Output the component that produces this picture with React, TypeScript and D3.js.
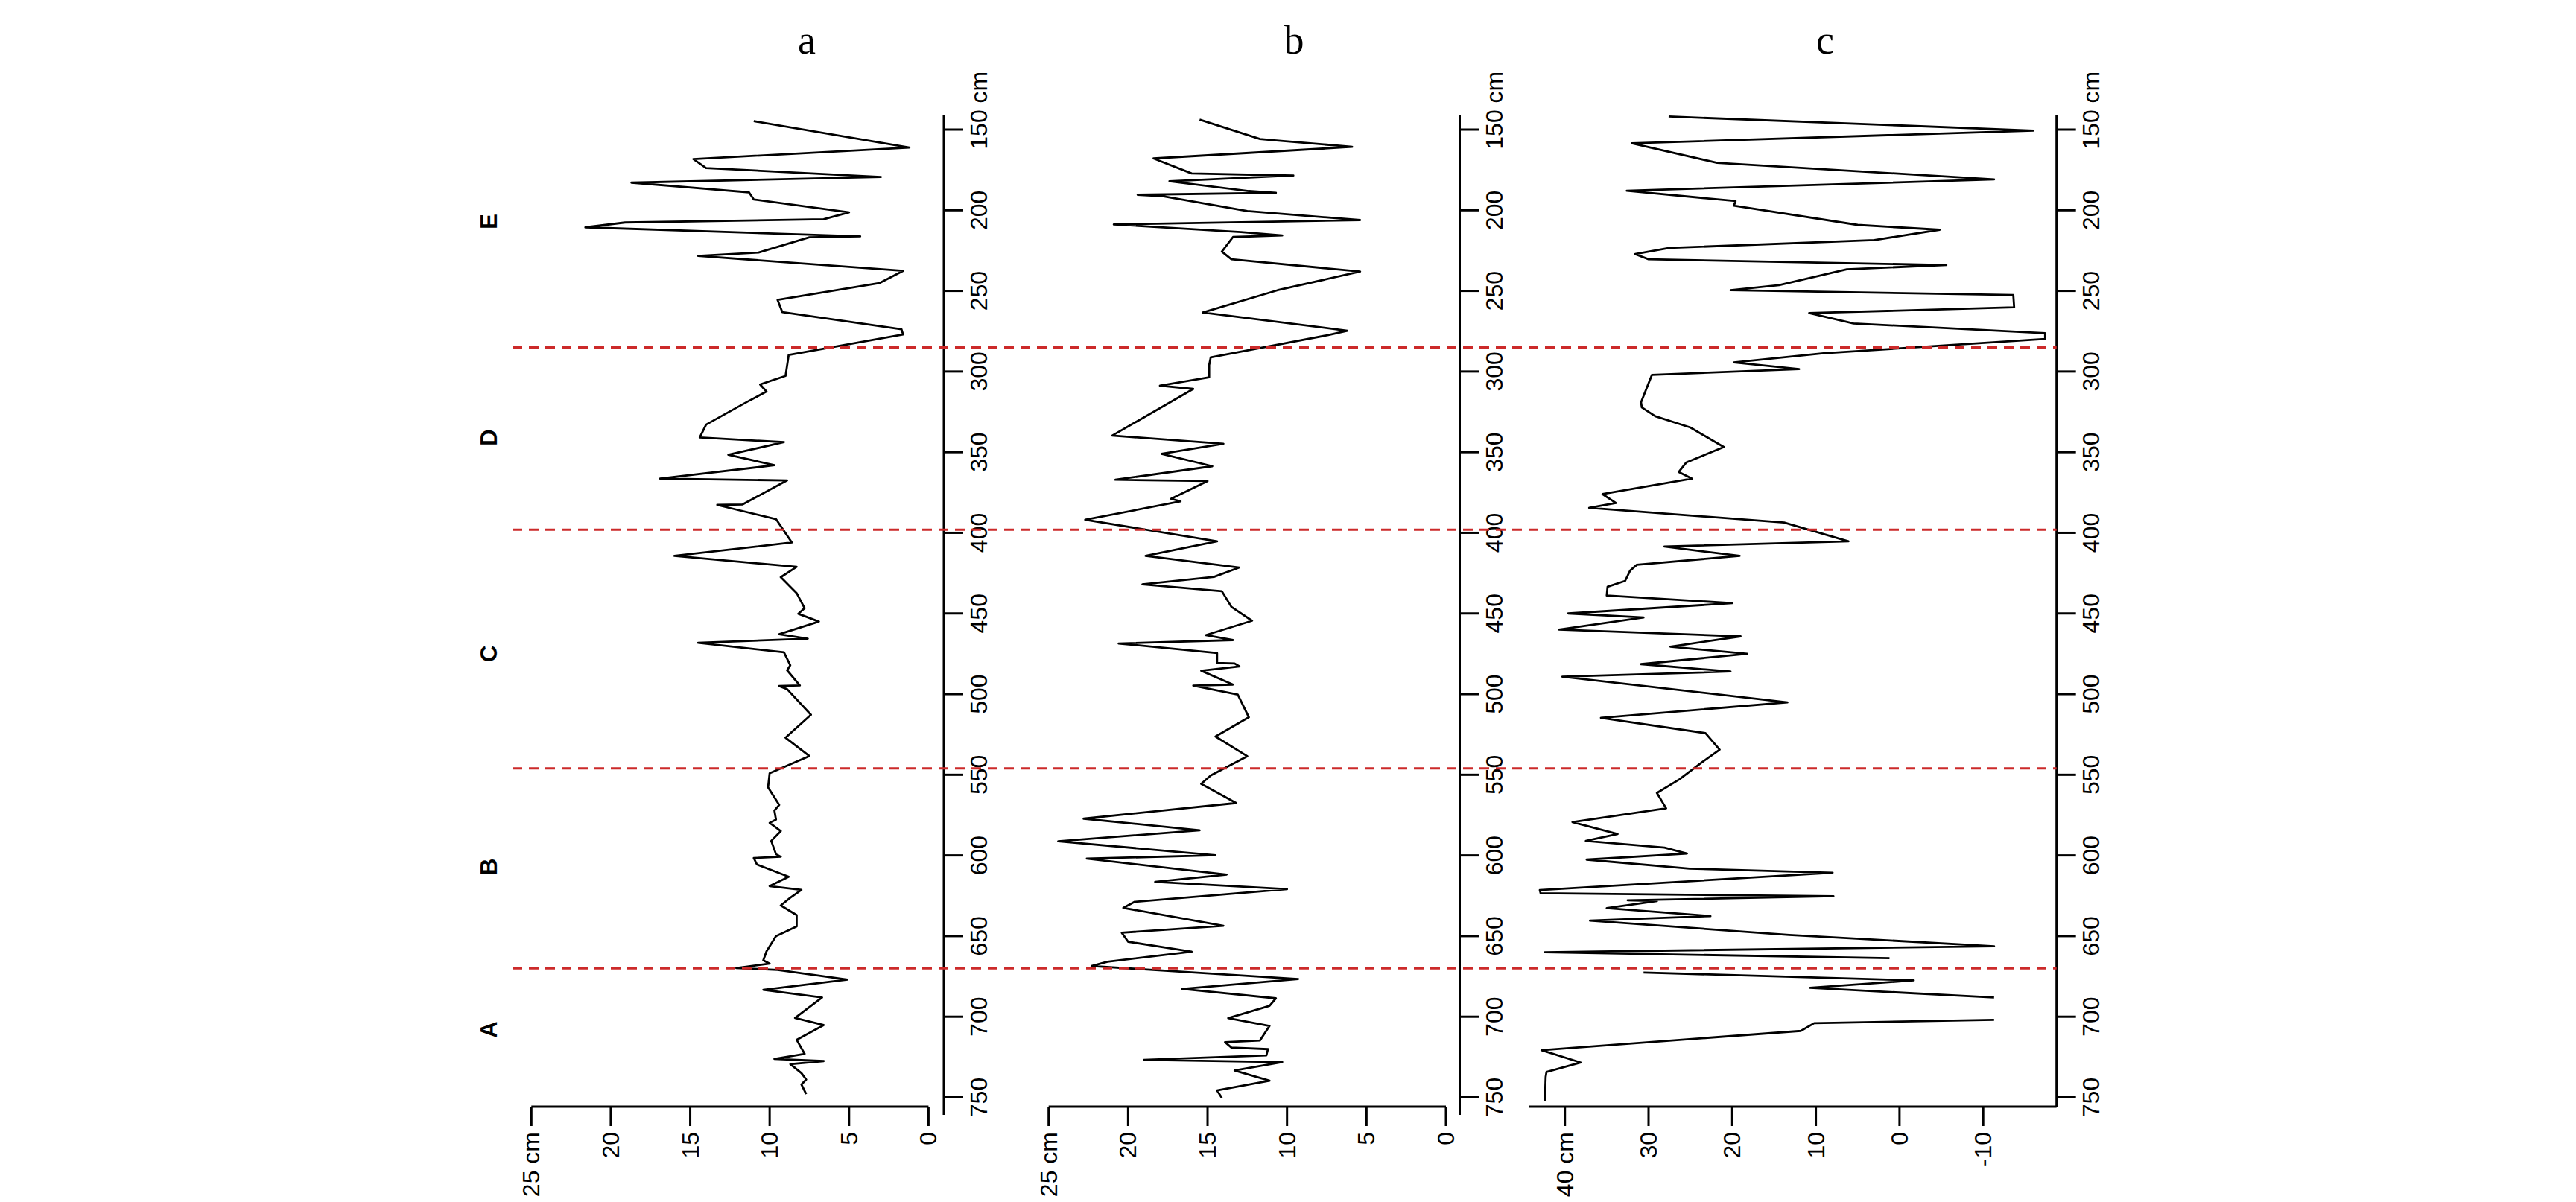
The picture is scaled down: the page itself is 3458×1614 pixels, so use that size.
import React from "react";
import * as d3 from "d3";

// depth (cm), value (cm)
const seriesA: [number, number][] = [
  [144.8, 11.0], [161.1, 1.2], [168.3, 14.8], [173.8, 14.0], [179.4, 3.0], [182.9, 18.7],
  [188.9, 11.3], [193.3, 11.0], [201.3, 5.0], [205.6, 6.6], [207.6, 19.1], [210.6, 21.6],
  [216.2, 4.3], [216.8, 7.5], [226.2, 10.7], [228.3, 14.5], [237.6, 1.6], [245.2, 3.1],
  [255.6, 9.5], [263.2, 9.2], [273.8, 1.7], [277.0, 1.6], [289.7, 8.8], [302.7, 9.0],
  [308.0, 10.6], [312.4, 10.2], [318.7, 11.4], [332.9, 14.0], [340.9, 14.4], [343.8, 9.1],
  [351.6, 12.6], [358.1, 9.7], [366.4, 16.9], [367.5, 8.9], [382.4, 11.7], [382.7, 13.3],
  [391.5, 9.6], [406.0, 8.6], [414.3, 16.0], [421.1, 8.3], [427.5, 9.3], [437.4, 8.3],
  [446.7, 7.8], [450.2, 8.2], [455.0, 6.9], [462.9, 9.4], [465.6, 7.6], [468.2, 14.5],
  [474.1, 9.1], [482.1, 8.7], [485.2, 8.9], [494.6, 8.1], [495.0, 9.4], [496.9, 8.9],
  [512.8, 7.4], [527.0, 9.0], [538.4, 7.5], [549.0, 10.0], [557.8, 10.1], [568.7, 9.4],
  [572.2, 9.7], [577.8, 9.6], [579.8, 10.0], [584.9, 9.3], [591.0, 9.9], [599.2, 9.6],
  [600.8, 9.3], [601.6, 11.0], [605.6, 10.8], [613.2, 8.8], [619.0, 10.0], [621.4, 8.0],
  [626.2, 8.7], [631.0, 9.3], [637.0, 8.3], [644.0, 8.3], [650.0, 9.6], [659.5, 10.2],
  [665.0, 10.4], [667.1, 10.0], [669.8, 12.1], [671.0, 9.5], [677.0, 5.1], [683.3, 10.4],
  [688.1, 6.7], [700.8, 8.4], [705.2, 6.6], [714.3, 8.3], [723.0, 7.8], [726.2, 9.7],
  [727.5, 6.6], [729.4, 8.7], [734.9, 8.0], [738.9, 7.7], [742.0, 8.0], [748.0, 7.7],
];

const seriesB: [number, number][] = [
  [143.8, 15.5], [155.8, 11.7], [156.6, 10.8], [160.7, 5.9], [167.9, 18.4], [177.2, 16.0],
  [178.5, 9.6], [182.0, 17.4], [188.1, 12.4], [189.2, 10.7], [190.4, 19.4], [191.2, 17.9],
  [200.5, 12.5], [206.1, 5.4], [208.8, 20.9], [213.5, 12.9], [215.6, 10.3], [216.6, 13.4],
  [225.7, 14.1], [230.4, 13.5], [238.0, 5.4], [249.6, 10.6], [263.4, 15.3], [274.7, 6.2],
  [277.4, 7.4], [291.2, 14.8], [296.0, 14.9], [303.6, 14.9], [308.8, 18.0], [310.8, 15.9],
  [339.7, 21.0], [344.8, 14.0], [351.0, 17.9], [358.7, 14.7], [367.1, 20.8], [367.9, 15.0],
  [378.9, 17.3], [380.5, 16.7], [391.9, 22.7], [405.3, 14.4], [414.3, 18.9], [421.5, 13.0],
  [427.3, 14.6], [431.9, 19.1], [436.2, 14.1], [445.9, 13.5], [454.5, 12.2], [463.4, 15.1],
  [466.5, 13.4], [468.6, 20.6], [474.5, 14.4], [480.7, 14.4], [481.0, 13.3], [482.8, 13.0],
  [485.5, 15.4], [494.1, 13.4], [494.7, 15.9], [500.3, 13.1], [514.3, 12.4], [526.3, 14.5],
  [538.5, 12.5], [550.4, 14.8], [555.6, 15.4], [567.5, 13.2], [577.2, 22.8], [584.4, 15.5],
  [591.2, 24.4], [599.9, 14.5], [602.0, 22.6], [611.9, 13.8], [616.4, 18.3], [620.9, 10.0],
  [628.8, 19.6], [632.5, 20.3], [643.6, 14.0], [647.9, 20.4], [653.5, 20.0], [659.7, 16.0],
  [665.9, 21.3], [668.6, 22.3], [676.6, 9.3], [682.8, 16.6], [688.6, 10.7], [693.3, 11.1],
  [700.9, 13.7], [705.7, 11.1], [714.7, 11.7], [715.8, 13.9], [719.1, 13.5], [720.1, 11.2],
  [724.0, 11.3], [726.7, 19.0], [728.1, 10.3], [733.3, 13.3], [739.7, 11.1], [745.7, 14.4],
  [750.4, 14.1],
];

// null = gap in the record
const seriesC: ([number, number] | null)[] = [
  [141.9, 27.6], [150.6, -16.0], [158.5, 32.0], [170.6, 21.8], [180.9, -11.3], [187.9, 32.6],
  [194.3, 19.6], [197.2, 19.8], [209.1, 5.0], [212.1, -4.8], [218.5, 3.0], [223.4, 27.5],
  [227.2, 31.6], [230.4, 30.0], [234.0, -5.6], [236.6, 6.3], [246.4, 14.4], [249.6, 20.2],
  [252.6, -13.6], [260.2, -13.7], [263.8, 10.8], [270.2, 5.5], [276.2, -17.4], [279.8, -17.4],
  [288.7, 9.1], [294.3, 19.8], [298.5, 12.0], [302.1, 29.6], [319.1, 30.9], [322.3, 30.8],
  [327.7, 29.2], [334.7, 25.0], [346.8, 21.0], [356.4, 25.5], [362.3, 26.4], [366.4, 24.8],
  [376.0, 35.5], [381.5, 33.9], [384.5, 37.1], [393.6, 13.8], [405.3, 6.1], [408.5, 28.1],
  [414.3, 19.1], [419.8, 31.4], [423.4, 32.2], [429.8, 32.8], [433.4, 34.9], [438.9, 35.0],
  [443.6, 20.0], [450.0, 39.6], [452.5, 30.6], [460.0, 40.7], [464.2, 19.0], [470.6, 27.4],
  [475.0, 18.2], [481.4, 30.9], [486.0, 20.2], [489.2, 40.3], [505.1, 13.4], [514.7, 35.7],
  [524.2, 23.2], [534.4, 21.5], [542.2, 23.6], [552.8, 26.3], [561.3, 29.0], [570.8, 27.9],
  [579.3, 39.1], [586.7, 33.7], [591.0, 37.5], [595.2, 28.1], [598.8, 25.4], [602.6, 37.4],
  [608.2, 25.1], [610.7, 8.0], [621.5, 43.0], [623.4, 42.9], [625.3, 7.9], [627.8, 32.5],
  [628.3, 29.0], [632.7, 35.0], [637.6, 22.6], [640.4, 37.0], [649.3, 13.2], [656.3, -11.3],
  [660.0, 42.4], [663.7, 1.2], null, [672.6, 30.6], [677.5, -1.7], [682.1, 10.7],
  [688.1, -11.3], null, [701.9, -11.3], [704.0, 10.2], [708.8, 11.8], [720.7, 42.8],
  [728.4, 38.1], [734.2, 42.2], [737.3, 42.3], [752.3, 42.4],
];

const depthTicks = [150, 200, 250, 300, 350, 400, 450, 500, 550, 600, 650, 700, 750];
const valueTicksAB = [0, 5, 10, 15, 20, 25];
const valueTicksC = [-10, 0, 10, 20, 30, 40];
const zoneBounds = [285, 398, 546, 670];
const zoneNames = ["E", "D", "C", "B", "A"];
const zoneCentres = [207, 341, 475, 607, 708];

const W = 3458;
const H = 1614;
const SANS = "'Liberation Sans', Arial, Helvetica, sans-serif";
const SERIF = "'Liberation Serif', 'Times New Roman', serif";
const RED = "#cc2a2a";
const TICK_FS = 32;
const AXIS_Y = 1486;
const TICK_LEN = 26;

const depth = d3.scaleLinear().domain([150, 750]).range([174, 1473.5]);

interface PanelProps {
  title: string;
  titleX: number;
  data: ([number, number] | null)[];
  domain: [number, number];
  range: [number, number];
  axisX: number;
  ticks: number[];
  lShape?: boolean;
}

const Panel: React.FC<PanelProps> = ({ title, titleX, data, domain, range, axisX, ticks, lShape }) => {
  const x = d3.scaleLinear().domain(domain).range(range);
  const line = d3
    .line<[number, number] | null>()
    .defined((d) => d != null)
    .x((d) => x(d![1]))
    .y((d) => depth(d![0]));

  const maxTick = d3.max(ticks)!;
  const half150 = 0.834 * TICK_FS; // half the width of a 3-digit label
  // the L-shaped panel has its value axis run on to the depth axis
  const valStart = lShape ? x(44.3) : x(d3.max(ticks)!);
  const valEnd = lShape ? axisX : x(d3.min(ticks)!);

  return (
    <g>
      <text x={titleX} y={72} fontFamily={SERIF} fontSize={54} textAnchor="middle">
        {title}
      </text>

      <path d={line(data) || ""} fill="none" stroke="#000" strokeWidth={2.8} strokeLinejoin="round" />

      {/* depth axis */}
      <line x1={axisX} x2={axisX} y1={155} y2={lShape ? AXIS_Y : 1497} stroke="#000" strokeWidth={3} />
      {depthTicks.map((t, i) => (
        <g key={t}>
          <line x1={axisX} x2={axisX + TICK_LEN} y1={depth(t)} y2={depth(t)} stroke="#000" strokeWidth={3} />
          <text
            transform={`translate(${axisX + 46.7},${depth(t)}) rotate(-90)`}
            x={-half150}
            textAnchor="start"
            dominantBaseline="central"
            fontFamily={SANS}
            fontSize={TICK_FS}
          >
            {i === 0 ? `${t} cm` : t}
          </text>
        </g>
      ))}

      {/* value axis */}
      <line x1={valStart} x2={valEnd} y1={AXIS_Y} y2={AXIS_Y} stroke="#000" strokeWidth={3} />
      {ticks.map((t) => (
        <g key={t}>
          <line x1={x(t)} x2={x(t)} y1={AXIS_Y} y2={AXIS_Y + TICK_LEN} stroke="#000" strokeWidth={3} />
          <text
            transform={`translate(${x(t)},1520) rotate(-90)`}
            textAnchor="end"
            dominantBaseline="central"
            fontFamily={SANS}
            fontSize={TICK_FS}
          >
            {t === maxTick ? `${t} cm` : t}
          </text>
        </g>
      ))}
    </g>
  );
};

const App: React.FC = () => {
  return (
    <svg
      width={W}
      height={H}
      viewBox={`0 0 ${W} ${H}`}
      style={{ position: "absolute", left: 0, top: 0, background: "#fff" }}
    >
      <rect width={W} height={H} fill="#fff" />

      <Panel title="a" titleX={1083} data={seriesA} domain={[0, 25]} range={[1246.4, 713.3]} axisX={1267} ticks={valueTicksAB} />
      <Panel title="b" titleX={1737} data={seriesB} domain={[0, 25]} range={[1941, 1407.7]} axisX={1959.5} ticks={valueTicksAB} />
      <Panel title="c" titleX={2450} data={seriesC} domain={[-10, 40]} range={[2662.2, 2100.7]} axisX={2760.7} ticks={valueTicksC} lShape />

      {/* zone letters */}
      {zoneNames.map((z, i) => (
        <text
          key={z}
          transform={`translate(656,${depth(zoneCentres[i])}) rotate(-90)`}
          textAnchor="middle"
          dominantBaseline="central"
          fontFamily={SANS}
          fontWeight="bold"
          fontSize={31}
        >
          {z}
        </text>
      ))}

      {/* zone boundaries */}
      {zoneBounds.map((b) => (
        <line
          key={b}
          x1={688}
          x2={2760.7}
          y1={depth(b)}
          y2={depth(b)}
          stroke={RED}
          strokeWidth={3}
          strokeDasharray="13 9"
        />
      ))}
    </svg>
  );
};

export default App;
